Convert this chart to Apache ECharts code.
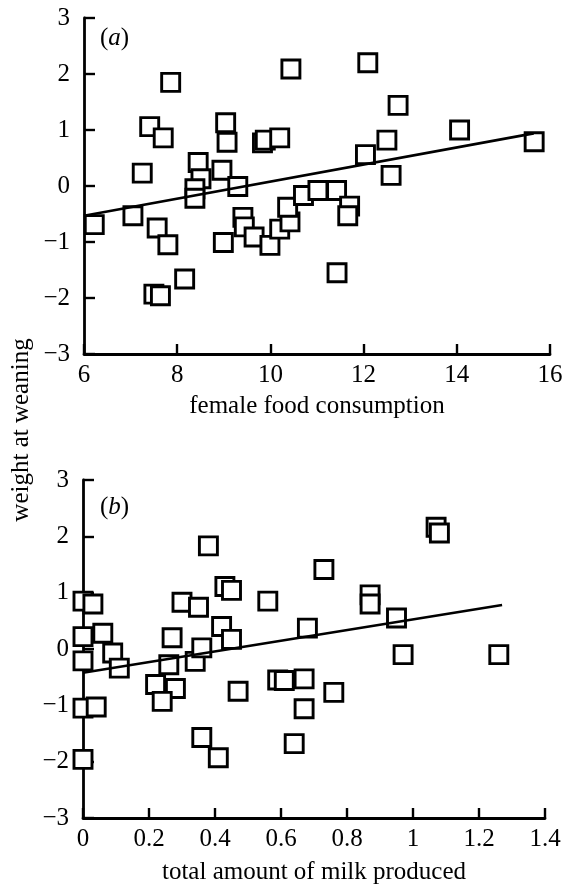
<!DOCTYPE html>
<html>
<head>
<meta charset="utf-8">
<script src="https://cdn.jsdelivr.net/npm/echarts@6/dist/echarts.min.js"></script>
<style>
html,body{margin:0;padding:0;background:#fff;}
#c{width:572px;height:886px;}
</style>
</head>
<body>
<div id="c"></div>
<script>
// Panel (a): female food consumption vs weight at weaning
const foodConsumption = [6.22,7.05,7.25,7.41,7.70,7.86,7.57,7.80,7.50,7.64,8.16,8.45,8.51,8.38,8.38,8.96,9.04,9.07,9.30,8.99,9.41,9.44,9.65,9.99,9.83,9.89,10.20,10.44,10.20,10.42,10.37,10.71,11.02,11.42,11.70,11.66,11.43,12.09,12.74,14.06,15.66,12.50,12.04,12.59];
const weaningWeightA = [-0.69,-0.53,0.23,1.06,0.86,1.85,-0.75,-1.05,-1.93,-1.96,-1.66,0.42,0.13,-0.05,-0.22,0.28,1.13,0.78,-0.01,-1.01,-0.56,-0.73,-0.91,-1.06,0.77,0.82,0.86,2.09,-0.77,-0.64,-0.38,-0.17,-0.08,-0.08,-0.36,-0.53,-1.55,2.20,1.44,1.00,0.79,0.82,0.56,0.19];
const fitLineA = [[6.0,-0.53],[15.65,0.94]];

// Panel (b): total amount of milk produced vs weight at weaning
const milkProduced = [0.00,0.03,0.00,0.06,0.00,0.09,0.11,0.00,0.04,0.00,0.27,0.26,0.22,0.28,0.24,0.30,0.35,0.38,0.34,0.36,0.36,0.41,0.42,0.43,0.45,0.45,0.47,0.56,0.59,0.61,0.67,0.67,0.64,0.68,0.73,0.76,0.87,0.87,0.95,0.97,1.07,1.08,1.26];
const weaningWeightB = [0.85,0.80,0.22,0.28,-0.21,-0.07,-0.34,-1.05,-1.03,-1.96,0.20,-0.28,-0.63,-0.70,-0.93,0.83,0.74,1.83,-0.22,0.02,-1.57,-1.93,0.40,1.11,1.04,0.17,-0.75,0.85,-0.55,-0.56,-0.53,-1.06,-1.68,0.37,1.41,-0.77,0.96,0.80,0.55,-0.10,2.16,2.06,-0.10];
const fitLineB = [[0.0,-0.42],[1.27,0.78]];

const panelLabels = ['a','b'];
const xTitles = ['female food consumption','total amount of milk produced'];
const yTitle = 'weight at weaning';

const FONT = '"Liberation Serif", "Times New Roman", serif';
const FS = 25;

function pairs(xs, ys){ return xs.map((x,i)=>[x, ys[i]]); }
function minus(v){ return String(v).replace('-', '\u2212'); }

function xAxisCfg(idx, min, max, interval, fmt, gap){
  return {
    type:'value', gridIndex: idx, min, max, interval,
    name: xTitles[idx], nameLocation:'middle', nameGap: gap,
    nameTextStyle:{color:'#000', fontFamily:FONT, fontSize:FS},
    axisLine:{onZero:false, lineStyle:{color:'#000', width:2.8}},
    axisTick:{inside:true, length:10, lineStyle:{color:'#000', width:2.4}},
    axisLabel:{color:'#000', fontFamily:FONT, fontSize:FS, margin:9, formatter:fmt},
    splitLine:{show:false}
  };
}
function yAxisCfg(idx){
  return {
    type:'value', gridIndex: idx, min:-3, max:3, interval:1,
    axisLine:{onZero:false, lineStyle:{color:'#000', width:2.8}},
    axisTick:{inside:true, length:11, lineStyle:{color:'#000', width:2.4}},
    axisLabel:{color:'#000', fontFamily:FONT, fontSize:FS, margin:14, formatter:minus},
    splitLine:{show:false}
  };
}
const sym = {
  type:'scatter', symbol:'rect', symbolSize:18,
  itemStyle:{color:'#fff', borderColor:'#000', borderWidth:2.9, opacity:1},
  emphasis:{disabled:true}, z:2
};
const fit = {
  type:'line', symbol:'none', lineStyle:{color:'#000', width:2.6},
  emphasis:{disabled:true}, z:3
};

const chart = echarts.init(document.getElementById('c'), null, {renderer:'canvas'});
chart.setOption({
  animation:false,
  backgroundColor:'#fff',
  grid:[
    {left:84, top:18, width:466, height:336},
    {left:83, top:480, width:462, height:338}
  ],
  xAxis:[
    xAxisCfg(0, 6, 16, 2, v=>String(v), 40),
    xAxisCfg(1, 0, 1.4, 0.2, v=>String(parseFloat(v.toFixed(1))), 42)
  ],
  yAxis:[ yAxisCfg(0), yAxisCfg(1) ],
  series:[
    Object.assign({}, sym, {xAxisIndex:0, yAxisIndex:0, data:pairs(foodConsumption, weaningWeightA)}),
    Object.assign({}, fit, {xAxisIndex:0, yAxisIndex:0, data:fitLineA}),
    Object.assign({}, sym, {xAxisIndex:1, yAxisIndex:1, data:pairs(milkProduced, weaningWeightB)}),
    Object.assign({}, fit, {xAxisIndex:1, yAxisIndex:1, data:fitLineB})
  ],
  graphic:[
    {type:'text', left:100, top:26, style:{text:'({it|'+panelLabels[0]+'})', fontFamily:FONT, fontSize:FS, fill:'#000', rich:{it:{fontStyle:'italic', fontFamily:FONT, fontSize:FS, fill:'#000'}}}},
    {type:'text', left:100, top:495, style:{text:'({it|'+panelLabels[1]+'})', fontFamily:FONT, fontSize:FS, fill:'#000', rich:{it:{fontStyle:'italic', fontFamily:FONT, fontSize:FS, fill:'#000'}}}},
    {type:'text', x:21, y:430, rotation:Math.PI/2, style:{text:yTitle, fontFamily:FONT, fontSize:FS, fill:'#000', align:'center', verticalAlign:'middle'}}
  ]
});
</script>
</body>
</html>
